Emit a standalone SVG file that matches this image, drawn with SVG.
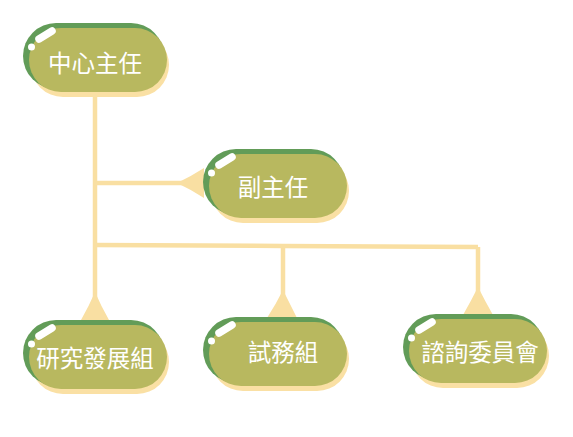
<svg xmlns="http://www.w3.org/2000/svg" width="573" height="437" viewBox="0 0 573 437">
<style>
.sh{fill:#fae0a4}
.gr{fill:#629c58}
.ol{fill:#b8b85f}
.hl{stroke:#ffffff;stroke-width:7.5;stroke-linecap:round;fill:none}
.dot{fill:#ffffff}
.lbl{font-family:"Noto Sans CJK TC","Noto Sans CJK SC",sans-serif;font-size:23.5px;fill:#ffffff;text-anchor:middle}
.cn{stroke:#f9dfa2;stroke-width:4.5;fill:none}
.ah{fill:#f9dfa2}
</style>
<defs>
<g id="box">
<rect class="sh" x="8" y="10" width="138" height="64" rx="32"/>
<rect class="gr" x="0" y="0" width="141" height="66" rx="33"/>
<rect class="ol" x="6" y="5" width="138" height="64" rx="32"/>
<line class="hl" x1="16" y1="16" x2="29" y2="8"/>
<circle class="dot" cx="8.5" cy="24" r="3.5"/>
</g>
</defs>
<g id="connectors">
<path class="cn" d="M95 95 V300"/>
<path class="cn" d="M95 183 H185"/>
<path class="cn" d="M95 245 L283 246 L478 247"/>
<path class="cn" d="M283 246 V300"/>
<path class="cn" d="M478 247 V298"/>
<path class="ah" d="M177 183 Q190 177 204 168 V198 Q190 189 177 183 Z"/>
<path class="ah" d="M95 292 Q89 306 81 320 H109 Q101 306 95 292 Z"/>
<path class="ah" d="M283 290 Q276 304 267 318 H297 Q290 304 283 290 Z"/>
<path class="ah" d="M478 287 Q471 301 463 315 H493 Q485 301 478 287 Z"/>
</g>
<g id="n1" transform="translate(23,23)">
<use href="#box"/>
<text class="lbl" x="72" y="48.5">中心主任</text>
</g>
<g id="n2" transform="translate(203,149)">
<use href="#box"/>
<text class="lbl" x="70" y="46.5">副主任</text>
</g>
<g id="n3" transform="translate(23,320)">
<use href="#box"/>
<text class="lbl" x="72" y="46.5">研究發展組</text>
</g>
<g id="n4" transform="translate(203,317)">
<use href="#box"/>
<text class="lbl" x="80" y="43.5">試務組</text>
</g>
<g id="n5" transform="translate(403,314)">
<use href="#box"/>
<text class="lbl" x="77" y="46.5">諮詢委員會</text>
</g>
</svg>
